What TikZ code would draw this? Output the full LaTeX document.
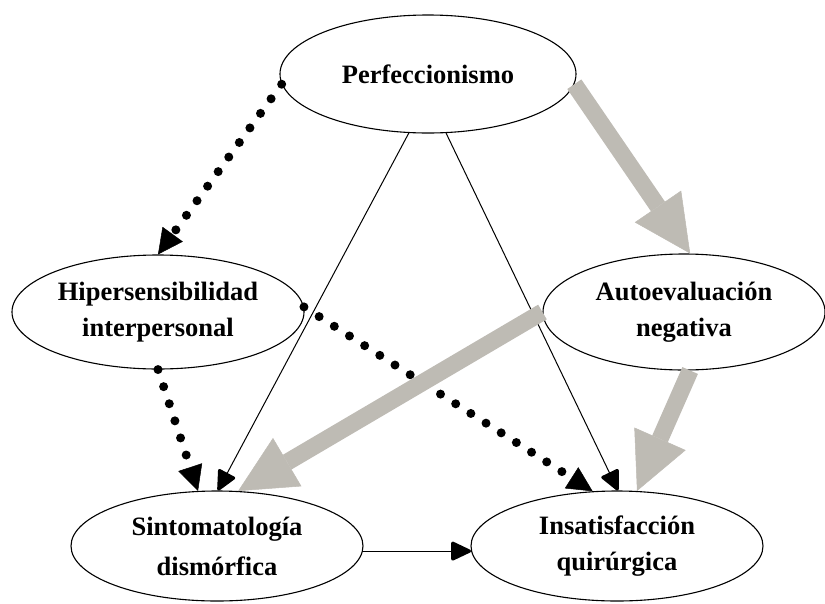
\documentclass[tikz,border=0pt]{standalone}
\usepackage{fontspec}
\setmainfont{Liberation Serif}
\usetikzlibrary{shapes.geometric, arrows.meta}
\definecolor{pathgray}{RGB}{190,187,180}

\begin{document}
\begin{tikzpicture}[x=1pt, y=-1pt,
    construct/.style={ellipse, draw, line width=1.1pt, minimum width=292pt,
        minimum height=114pt, inner sep=0pt, align=center,
        font=\fontsize{26.5}{36}\selectfont\bfseries},
    dotpath/.style={line width=9pt, line cap=round, dash pattern=on 0pt off 18pt,
        -{Triangle[length=25pt, width=25pt, line width=0.5pt]}},
    direct/.style={line width=1pt,
        -{Triangle[length=22pt, width=20pt, round, line width=3pt]}},
    mediated/.style={line width=17pt, draw=pathgray,
        -{Triangle[length=57pt, width=56pt, line width=0.5pt]}}]
    % --- Frame ---
    \useasboundingbox (0,0) rectangle (825,603);

    % --- Constructs ---
    \node[construct, minimum width=296pt, minimum height=118pt] (perf) at (428,74) {Perfeccionismo};
    \node[construct] (hiper) at (158,312) {Hipersensibilidad\\interpersonal};
    \node[construct, minimum width=282pt, minimum height=116pt] (auto) at (684,312) {Autoevaluación\\negativa};
    \node[construct, minimum height=110pt] (sinto) at (217,546) {Sintomatología\\[4pt]dismórfica};
    \node[construct, minimum height=110pt] (insat) at (617,546) {Insatisfacción\\quirúrgica};

    % --- Dotted paths ---
    \draw[dotpath] (perf.184) -- (hiper.north);
    \draw[dotpath] (hiper.south) -- (sinto.109);
    \draw[dotpath] (hiper.2) -- (insat.114);

    % --- Direct paths ---
    \draw[direct] (perf.252) -- (sinto.89);
    \draw[direct] (perf.287) -- (insat.89);
    \draw[direct] (sinto.358) -- (insat.182);

    % --- Gray paths (drawn last, on top) ---
    \draw[mediated] (perf.356) -- (auto.84);
    \draw[mediated] (auto.west) -- (sinto.69);
    \draw[mediated] (auto.276) -- (insat.70);
\end{tikzpicture}
\end{document}
